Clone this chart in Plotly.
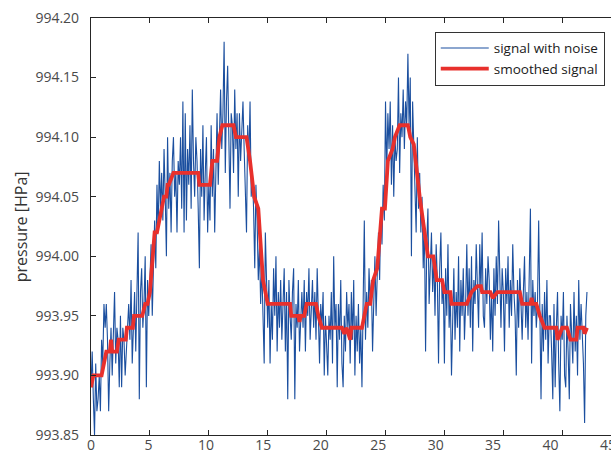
import numpy as np
import plotly.graph_objects as go

# ---------------- data ----------------
SAMPLE_STEP = 0.1  # time step between noisy samples

# noisy pressure signal, in Pa (one value per 0.1 time unit)
noisy_pa = [
    99389, 99392, 99388, 99385, 99391, 99387, 99388, 99390, 99387, 99393,
    99391, 99396, 99394, 99396, 99393, 99387, 99391, 99394, 99390, 99395,
    99397, 99391, 99394, 99393, 99389, 99395, 99389, 99394, 99393, 99390,
    99392, 99394, 99396, 99393, 99398, 99391, 99395, 99397, 99392, 99396,
    99402, 99388, 99397, 99399, 99394, 99396, 99400, 99389, 99398, 99395,
    99398, 99401, 99395, 99400, 99403, 99399, 99406, 99402, 99408, 99404,
    99407, 99403, 99409, 99405, 99400, 99410, 99404, 99407, 99402, 99408,
    99410, 99405, 99407, 99402, 99408, 99406, 99410, 99404, 99413, 99402,
    99412, 99403, 99409, 99406, 99411, 99404, 99414, 99408, 99405, 99410,
    99408, 99404, 99399, 99409, 99405, 99411, 99403, 99407, 99410, 99402,
    99406, 99403, 99411, 99405, 99409, 99402, 99408, 99412, 99406, 99410,
    99414, 99409, 99412, 99418, 99407, 99413, 99416, 99410, 99404, 99412,
    99411, 99407, 99414, 99409, 99412, 99405, 99412, 99408, 99410, 99413,
    99409, 99406, 99402, 99411, 99408, 99413, 99405, 99407, 99404, 99399,
    99406, 99403, 99398, 99401, 99396, 99399, 99394, 99391, 99402, 99397,
    99394, 99398, 99391, 99396, 99393, 99399, 99395, 99400, 99392, 99397,
    99394, 99398, 99393, 99396, 99399, 99392, 99397, 99388, 99398, 99395,
    99393, 99397, 99399, 99388, 99396, 99394, 99398, 99392, 99395, 99397,
    99394, 99398, 99392, 99397, 99395, 99399, 99393, 99396, 99398, 99394,
    99397, 99393, 99399, 99395, 99391, 99396, 99394, 99397, 99390, 99395,
    99392, 99390, 99395, 99393, 99397, 99391, 99400, 99394, 99396, 99389,
    99396, 99393, 99398, 99391, 99389, 99395, 99392, 99397, 99394, 99396,
    99391, 99397, 99393, 99398, 99390, 99395, 99392, 99396, 99391, 99394,
    99389, 99395, 99403, 99393, 99397, 99394, 99399, 99396, 99398, 99392,
    99397, 99400, 99395, 99399, 99402, 99398, 99404, 99401, 99406, 99403,
    99413, 99407, 99412, 99409, 99413, 99406, 99411, 99405, 99410, 99408,
    99409, 99415, 99407, 99412, 99410, 99414, 99409, 99413, 99411, 99417,
    99411, 99415, 99400, 99413, 99409, 99406, 99402, 99410, 99404, 99407,
    99402, 99405, 99399, 99403, 99392, 99401, 99404, 99396, 99400, 99402,
    99397, 99400, 99395, 99401, 99398, 99391, 99399, 99402, 99396, 99398,
    99391, 99399, 99395, 99401, 99394, 99397, 99390, 99396, 99399, 99393,
    99397, 99394, 99400, 99392, 99398, 99395, 99399, 99393, 99396, 99401,
    99395, 99399, 99394, 99400, 99392, 99398, 99396, 99401, 99397, 99394,
    99401, 99397, 99402, 99395, 99394, 99399, 99396, 99400, 99398, 99393,
    99397, 99392, 99399, 99395, 99400, 99396, 99403, 99398, 99394, 99399,
    99397, 99392, 99399, 99396, 99400, 99394, 99398, 99395, 99401, 99397,
    99395, 99390, 99398, 99394, 99399, 99396, 99393, 99397, 99400, 99394,
    99397, 99393, 99399, 99404, 99391, 99398, 99395, 99397, 99394, 99396,
    99403, 99394, 99388, 99396, 99392, 99397, 99393, 99398, 99391, 99395,
    99395, 99392, 99388, 99396, 99389, 99394, 99397, 99391, 99387, 99395,
    99393, 99397, 99390, 99389, 99395, 99392, 99388, 99396, 99394, 99391,
    99397, 99392, 99395, 99390, 99398, 99393, 99396, 99394, 99391, 99386,
    99395, 99397,
]

# smoothed signal vertices
smooth_t = [0, 0.2, 0.9, 1.3, 1.6, 1.7, 1.8, 2.2, 2.35, 2.95,
            3.05, 3.55, 3.65, 4.35, 4.6, 4.8, 5.0, 5.4, 5.6, 6.0,
            6.2, 6.4, 6.5, 6.6, 7.0, 9.1, 9.2, 10.1, 10.3, 10.7,
            10.9, 11.15, 12.1, 12.3, 13.2, 13.5, 13.85, 14.2, 14.6, 15.0,
            16.9, 17.0, 17.6, 17.7, 17.8, 18.1, 18.3, 19.1, 19.3, 19.6,
            21.3, 21.5, 21.7, 22.0, 22.1, 23.0, 23.4, 23.7, 23.95, 24.3,
            24.7, 24.95, 25.2, 25.6, 25.8, 26.2, 26.9, 27.1, 27.4, 27.9,
            28.2, 28.6, 29.05, 29.35, 29.8, 30.0, 30.5, 30.6, 31.9, 32.3,
            32.8, 33.1, 33.2, 33.9, 34.1, 34.5, 36.4, 36.6, 37.3, 37.4,
            37.5, 37.8, 38.1, 38.5, 39.5, 39.6, 40.0, 40.4, 40.7, 41.2,
            41.3, 41.8, 41.9, 42.1]
smooth_hpa = [993.89, 993.90, 993.90, 993.92, 993.92, 993.93, 993.92, 993.92, 993.93, 993.93,
              993.94, 993.94, 993.95, 993.95, 993.96, 993.96, 993.97, 994.02, 994.02, 994.04,
              994.05, 994.05, 994.06, 994.06, 994.07, 994.07, 994.06, 994.06, 994.08, 994.08,
              994.10, 994.11, 994.11, 994.10, 994.10, 994.08, 994.05, 994.04, 993.98, 993.96,
              993.96, 993.95, 993.95, 993.945, 993.95, 993.95, 993.96, 993.96, 993.95, 993.94,
              993.94, 993.935, 993.94, 993.93, 993.94, 993.94, 993.96, 993.96, 993.98, 993.99,
              994.04, 994.04, 994.08, 994.09, 994.10, 994.11, 994.11, 994.10, 994.094, 994.05,
              994.03, 994.00, 994.00, 993.98, 993.98, 993.97, 993.97, 993.96, 993.96, 993.97,
              993.975, 993.975, 993.97, 993.97, 993.965, 993.97, 993.97, 993.96, 993.96, 993.965,
              993.96, 993.96, 993.95, 993.94, 993.94, 993.93, 993.94, 993.94, 993.93, 993.93,
              993.94, 993.94, 993.935, 993.94]

x_ticks = [0, 5, 10, 15, 20, 25, 30, 35, 40, 45]
y_ticks = [993.85, 993.90, 993.95, 994.00, 994.05, 994.10, 994.15, 994.20]
series_names = ["signal with noise", "smoothed signal"]
y_title = "pressure [HPa]"

# ---------------- figure ----------------
noisy_hpa = np.array(noisy_pa) / 100.0
noisy_t = np.arange(len(noisy_pa)) * SAMPLE_STEP

FONT = "Open Sans"
AXC = "#262626"
LBL = "#4a4a4a"

fig = go.Figure()
fig.add_trace(go.Scatter(x=noisy_t, y=noisy_hpa, mode="lines", name=series_names[0],
                         line=dict(color="#1b4f9f", width=1.1)))
fig.add_trace(go.Scatter(x=smooth_t, y=smooth_hpa, mode="lines", name=series_names[1],
                         line=dict(color="#e8302c", width=3.8)))
# empty trace that only registers the tick-label axis
fig.add_trace(go.Scatter(x=[0.0], y=[None], xaxis="x2", yaxis="y", mode="lines",
                         showlegend=False, hoverinfo="skip"))

fig.update_layout(
    width=611, height=459,
    margin=dict(l=91, r=0, t=18, b=24, autoexpand=False),
    paper_bgcolor="white", plot_bgcolor="white",
    font=dict(family=FONT, size=14, color=LBL),
    showlegend=True,
    legend=dict(x=0.988, xanchor="right", y=0.967, yanchor="top",
                bgcolor="white", bordercolor="#333333", borderwidth=1,
                font=dict(family=FONT, size=13.5, color="#1a1a1a"),
                tracegroupgap=0, itemwidth=48),
    xaxis=dict(range=[0, 44.14], autorange=False, type="linear",
               tickvals=x_ticks, showticklabels=False,
               ticks="inside", ticklen=5, tickcolor=AXC, tickwidth=1,
               showline=True, linecolor=AXC, linewidth=1.2, mirror="ticks",
               showgrid=False, zeroline=False),
    xaxis2=dict(overlaying="x", anchor="y", side="bottom",
                range=[0, 45.26], autorange=False, type="linear",
                tickvals=x_ticks, ticktext=[str(v) for v in x_ticks],
                ticks="", showline=False, showgrid=False, zeroline=False,
                ticklabeloverflow="allow", automargin=False,
                tickfont=dict(family=FONT, size=14, color=LBL)),
    yaxis=dict(range=[993.85, 994.20], autorange=False, tickvals=y_ticks, tickformat=".2f",
               ticks="inside", ticklen=5, tickcolor=AXC, tickwidth=1,
               showline=True, linecolor=AXC, linewidth=1.2, mirror=False,
               showgrid=False, zeroline=False, ticklabelstandoff=8,
               tickfont=dict(family=FONT, size=14, color=LBL)),
    annotations=[dict(text=y_title, textangle=-90, xref="paper", yref="paper",
                      x=-0.135, y=0.5, xanchor="center", yanchor="middle",
                      showarrow=False,
                      font=dict(family=FONT, size=16, color="#333333"))],
)

fig.write_html("out.html", config={"displayModeBar": False})
